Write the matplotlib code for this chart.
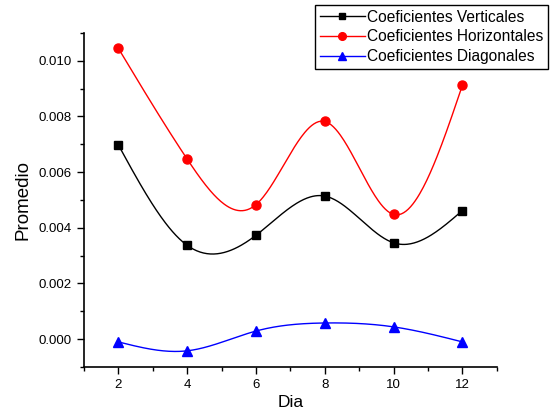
import numpy as np
import matplotlib
matplotlib.use("Agg")
import matplotlib.pyplot as plt
from matplotlib.ticker import MultipleLocator

plt.rcParams['font.family'] = ['Liberation Sans', 'DejaVu Sans']

dia = [2, 4, 6, 8, 10, 12]
verticales = [0.00698, 0.00337, 0.00373, 0.00514, 0.00346, 0.00462]
horizontales = [0.01045, 0.00647, 0.00483, 0.00782, 0.00448, 0.00912]
diagonales = [-0.00010, -0.00042, 0.00029, 0.00058, 0.00044, -0.00010]


def natural_spline(x, y, n=300):
    # spline cubico natural, como el "spline connect" de Origin
    x = np.asarray(x, float)
    y = np.asarray(y, float)
    k = len(x)
    h = np.diff(x)
    A = np.zeros((k, k))
    b = np.zeros(k)
    A[0, 0] = 1
    A[-1, -1] = 1
    for i in range(1, k - 1):
        A[i, i - 1] = h[i - 1]
        A[i, i] = 2 * (h[i - 1] + h[i])
        A[i, i + 1] = h[i]
        b[i] = 6 * ((y[i + 1] - y[i]) / h[i] - (y[i] - y[i - 1]) / h[i - 1])
    M = np.linalg.solve(A, b)
    xs = np.linspace(x[0], x[-1], n)
    ys = np.zeros(n)
    for j, xv in enumerate(xs):
        i = min(np.searchsorted(x, xv, side='right') - 1, k - 2)
        t0 = x[i + 1] - xv
        t1 = xv - x[i]
        ys[j] = (M[i] * t0**3 + M[i + 1] * t1**3) / (6 * h[i]) \
            + (y[i] / h[i] - M[i] * h[i] / 6) * t0 \
            + (y[i + 1] / h[i] - M[i + 1] * h[i] / 6) * t1
    return xs, ys


fig = plt.figure(figsize=(5.52, 4.17), dpi=100)
ax = fig.add_axes([0.152, 0.120, 0.748, 0.801])

series = [
    (verticales, 'black', 's', 5.5, 'Coeficientes Verticales'),
    (horizontales, 'red', 'o', 6.5, 'Coeficientes Horizontales'),
    (diagonales, 'blue', '^', 7, 'Coeficientes Diagonales'),
]
handles = []
for vals, col, mk, ms, lab in series:
    xs, ys = natural_spline(dia, vals)
    ax.plot(xs, ys, color=col, lw=1)
    ax.plot(dia, vals, ls='none', marker=mk, ms=ms, color=col)
    h, = ax.plot([], [], color=col, lw=1, marker=mk, ms=ms * 0.85, label=lab)
    handles.append(h)

ax.set_xlim(1, 13)
ax.set_ylim(-0.001, 0.011)
ax.xaxis.set_major_locator(MultipleLocator(2))
ax.xaxis.set_minor_locator(MultipleLocator(1))
ax.yaxis.set_major_locator(MultipleLocator(0.002))
ax.yaxis.set_minor_locator(MultipleLocator(0.001))
ax.yaxis.set_major_formatter(matplotlib.ticker.FormatStrFormatter('%.3f'))
ax.tick_params(which='major', direction='out', length=5, width=1, labelsize=9.5)
ax.tick_params(which='minor', direction='out', length=3, width=1)
for s in ['top', 'right']:
    ax.spines[s].set_visible(False)
for s in ['left', 'bottom']:
    ax.spines[s].set_linewidth(1.2)

ax.set_xlabel('Dia', fontsize=12.5, labelpad=3)
ax.set_ylabel('Promedio', fontsize=13.5, labelpad=5)

fig.legend(handles=handles, loc='upper right', bbox_to_anchor=(0.993, 0.988),
           fontsize=11.2, frameon=True, fancybox=False, edgecolor='black',
           framealpha=1, labelspacing=0.3, handlelength=2.9, handletextpad=0.15,
           borderpad=0.3, borderaxespad=0)

fig.savefig('out.png', dpi=100)
